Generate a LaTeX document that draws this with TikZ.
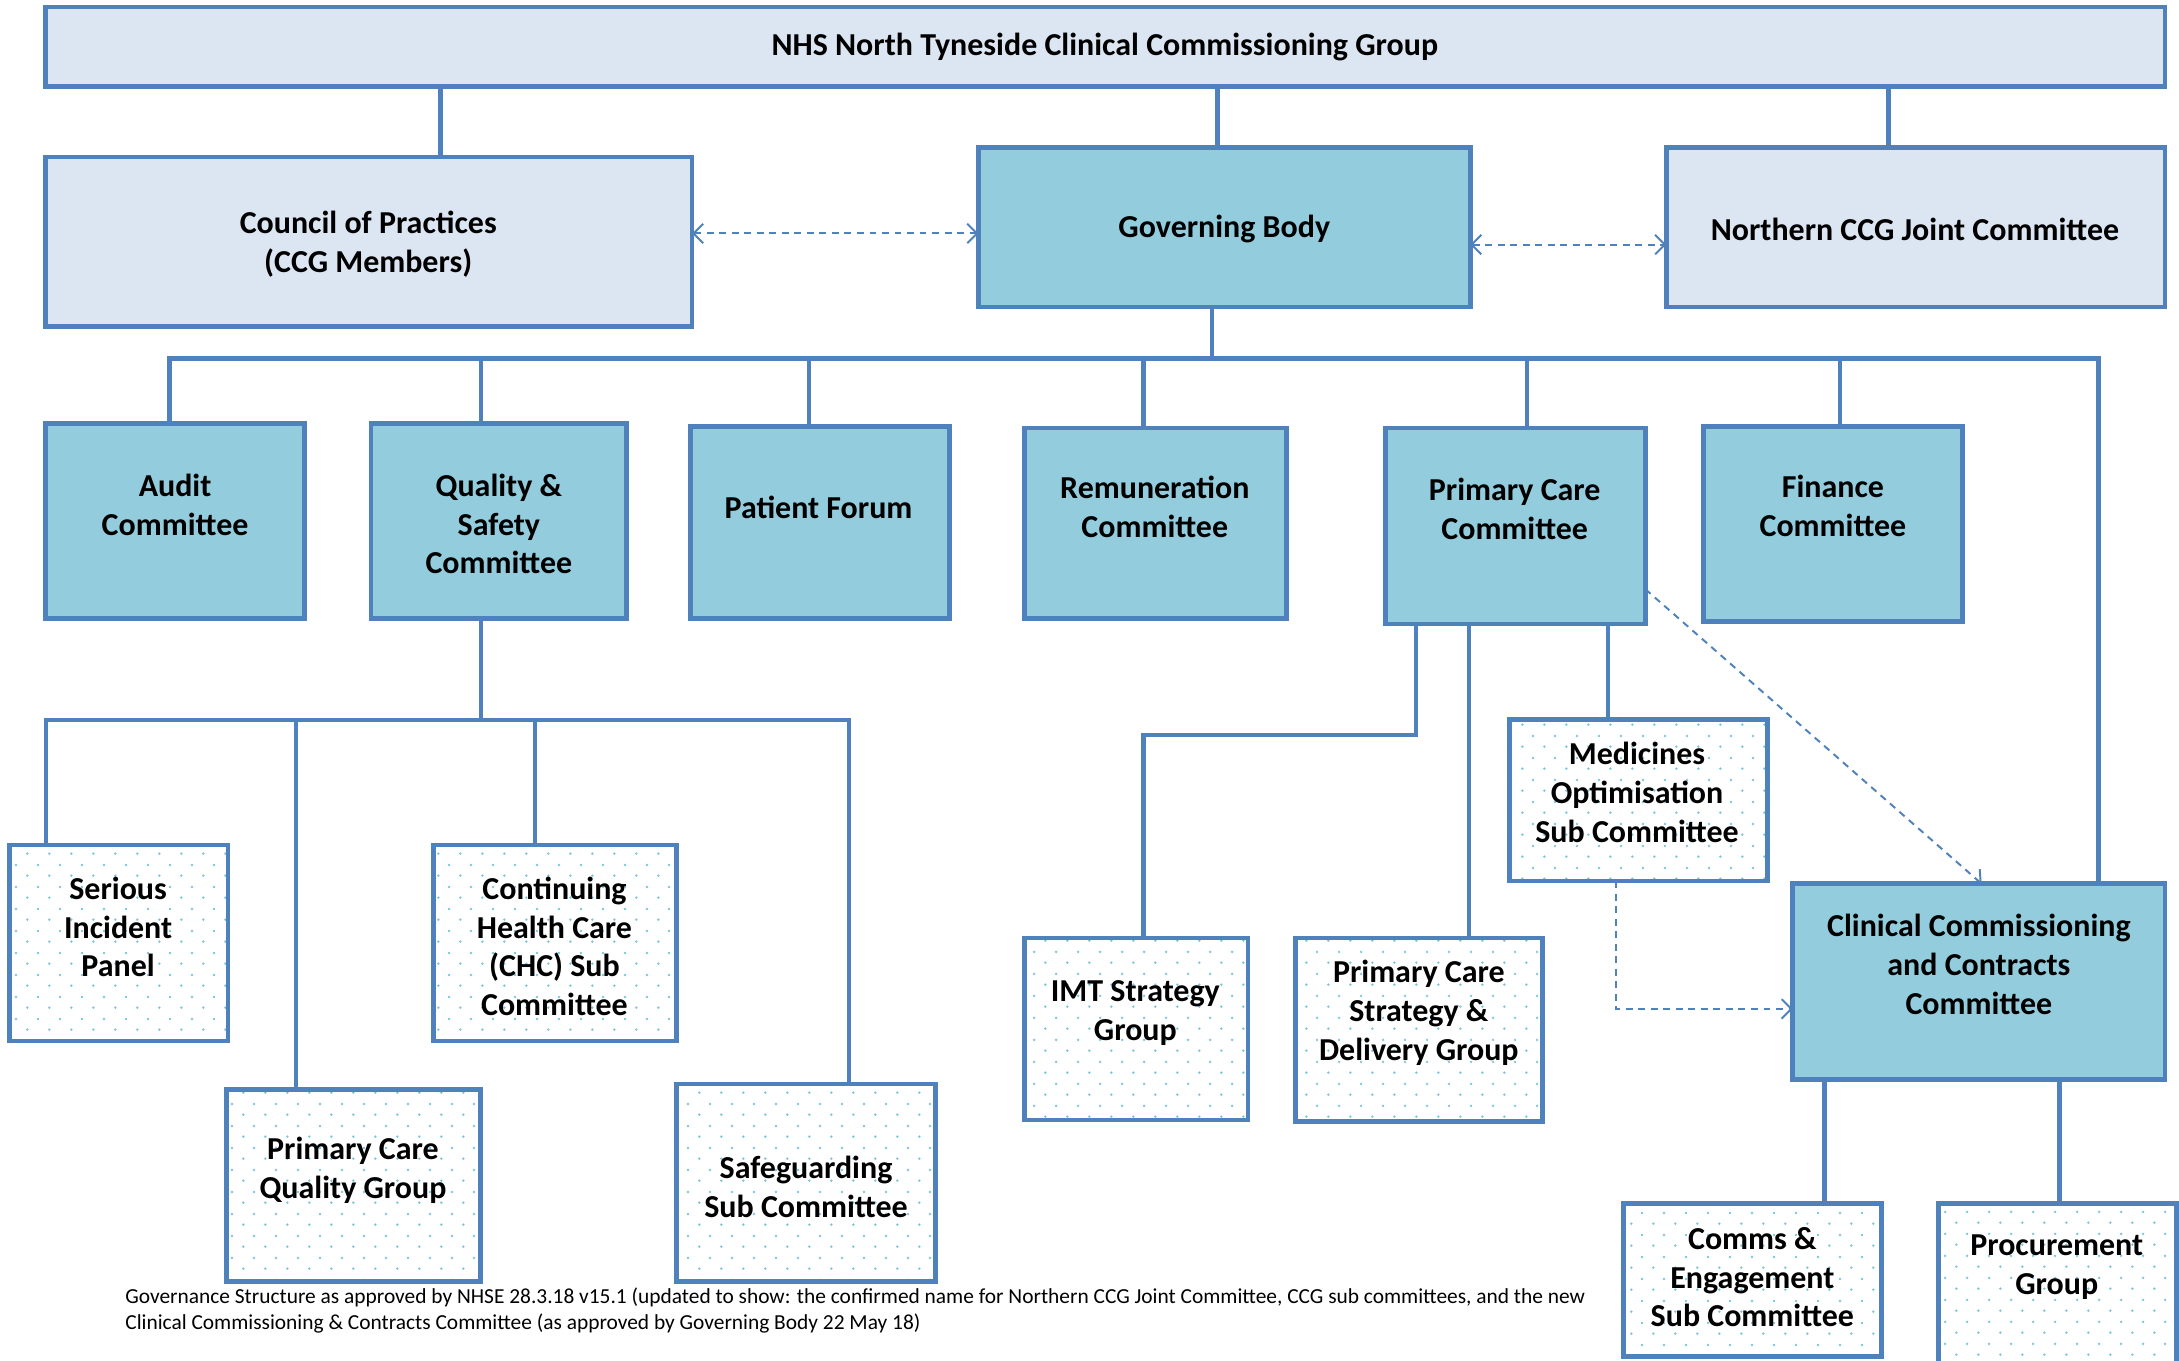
\documentclass[tikz,border=0pt]{standalone}
\usepackage{fontspec}
\setmainfont{Carlito}
\usetikzlibrary{arrows.meta,patterns.meta}
\definecolor{bord}{RGB}{79,129,189}
\definecolor{lightfill}{RGB}{220,230,242}
\definecolor{midfill}{RGB}{147,205,221}
\definecolor{dotcol}{RGB}{125,198,220}
\tikzdeclarepattern{
  name=ccgdots,
  type=uncolored,
  bounding box={(0pt,0pt) and (15.6pt,15.6pt)},
  tile size={(15.6pt,15.6pt)},
  code={
    \fill (3.9pt,3.9pt) circle[radius=1pt];
    \fill (11.7pt,11.7pt) circle[radius=1pt];
  }
}
\tikzset{
  basebox/.style={draw=bord, line width=3.4pt, anchor=north west, inner sep=0pt, outer sep=0pt, rectangle},
  lightbox/.style={basebox, fill=lightfill},
  midbox/.style={basebox, fill=midfill},
  dotbox/.style={basebox, preaction={fill=white}, pattern=ccgdots, pattern color=dotcol},
  txt/.style={font=\fontsize{23}{28}\selectfont\bfseries, align=center, inner sep=0pt},
  conn/.style={draw=bord, line width=3.2pt},
  dasharr/.style={draw=bord, line width=1.4pt, dash pattern=on 5pt off 4pt, >={Straight Barb[length=7pt,width=14pt]}},
}
\begin{document}
\begin{tikzpicture}[x=1pt,y=-1pt]
\useasboundingbox (0,0) rectangle (1568,978.7);
% boxes
\node[lightbox, minimum width=1525pt, minimum height=57pt] (top) at (33,5) {};
\node[lightbox, minimum width=465pt, minimum height=122pt] (council) at (33,113) {};
\node[midbox, minimum width=354pt, minimum height=115pt] (gov) at (704,106) {};
\node[lightbox, minimum width=359pt, minimum height=115pt] (north) at (1199,106) {};
\node[midbox, minimum width=186pt, minimum height=140pt] (audit) at (33,305) {};
\node[midbox, minimum width=184pt, minimum height=140pt] (quality) at (267,305) {};
\node[midbox, minimum width=186pt, minimum height=138pt] (patient) at (497,307) {};
\node[midbox, minimum width=189pt, minimum height=137pt] (remun) at (737,308) {};
\node[midbox, minimum width=187pt, minimum height=141pt] (pcc) at (997,308) {};
\node[midbox, minimum width=186pt, minimum height=140pt] (finance) at (1226,307) {};
\node[dotbox, minimum width=157pt, minimum height=141pt] (serious) at (7,608) {};
\node[dotbox, minimum width=183pt, minimum height=138pt] (pcqg) at (163,784) {};
\node[dotbox, minimum width=175pt, minimum height=141pt] (chc) at (312,608) {};
\node[dotbox, minimum width=186pt, minimum height=142pt] (safe) at (487,780) {};
\node[dotbox, minimum width=161pt, minimum height=131pt] (imt) at (737,675) {};
\node[dotbox, minimum width=178pt, minimum height=132pt] (pcsd) at (932,675) {};
\node[dotbox, minimum width=186pt, minimum height=116pt] (med) at (1086,518) {};
\node[midbox, minimum width=268pt, minimum height=141pt] (ccc) at (1290,636) {};
\node[dotbox, minimum width=186pt, minimum height=110pt] (comms) at (1168,866) {};
\node[dotbox, minimum width=171pt, minimum height=130pt] (proc) at (1395,866) {};
% texts
\node[txt] (top-t) at (795,34) {NHS North Tyneside Clinical Commissioning Group};
\node[txt] (council-t) at (265,176) {Council of Practices\\(CCG Members)};
\node[txt] (gov-t) at (881,165) {Governing Body};
\node[txt] (north-t) at (1378,165) {Northern CCG Joint Committee};
\node[txt] (audit-t) at (126,363) {Audit\\Committee};
\node[txt] (quality-t) at (359,377) {Quality \&\\Safety\\Committee};
\node[txt] (patient-t) at (589,365) {Patient Forum};
\node[txt] (remun-t) at (831,365) {Remuneration\\Committee};
\node[txt] (pcc-t) at (1090,366) {Primary Care\\Committee};
\node[txt] (finance-t) at (1319,364) {Finance\\Committee};
\node[txt] (serious-t) at (85,667) {Serious\\Incident\\Panel};
\node[txt] (pcqg-t) at (254,842) {Primary Care\\Quality Group};
\node[txt] (chc-t) at (399,681) {Continuing\\Health Care\\(CHC) Sub\\Committee};
\node[txt] (safe-t) at (580,854) {Safeguarding\\Sub Committee};
\node[txt] (imt-t) at (817,729) {IMT Strategy\\Group};
\node[txt] (pcsd-t) at (1021,729) {Primary Care\\Strategy \&\\Delivery Group};
\node[txt] (med-t) at (1178,570) {Medicines\\Optimisation\\Sub Committee};
\node[txt] (ccc-t) at (1424,694) {Clinical Commissioning\\and Contracts\\Committee};
\node[txt] (comms-t) at (1261,919) {Comms \&\\Engagement\\Sub Committee};
\node[txt] (proc-t) at (1480,912) {Procurement\\Group};
\node[font=\fontsize{15.4}{19}\selectfont, align=left, anchor=west, inner sep=0pt] (foot) at (90,943)
  {Governance Structure as approved by NHSE 28.3.18 v15.1 (updated to show: the confirmed name for Northern CCG Joint Committee, CCG sub committees, and the new\\Clinical Commissioning \& Contracts Committee (as approved by Governing Body 22 May 18)};
% bus coordinates
\coordinate (bus) at (0,258);
\coordinate (qbus) at (0,518);
\coordinate (imtbend) at (0,529);
% connectors
\draw[conn] (317,0 |- top.south) -- (317,0 |- council.north);
\draw[conn] (876,0 |- top.south) -- (876,0 |- gov.north);
\draw[conn] (1359,0 |- top.south) -- (1359,0 |- north.north);
\draw[conn] (872,0 |- gov.south) -- (872,0 |- bus);
\draw[conn] (122,0 |- audit.north) -- (122,0 |- bus) -- (1510,0 |- bus) -- (1510,0 |- ccc.north);
\draw[conn] (346,0 |- bus) -- (346,0 |- quality.north);
\draw[conn] (582,0 |- bus) -- (582,0 |- patient.north);
\draw[conn] (823,0 |- bus) -- (823,0 |- remun.north);
\draw[conn] (1099,0 |- bus) -- (1099,0 |- pcc.north);
\draw[conn] (1324,0 |- bus) -- (1324,0 |- finance.north);
\draw[conn] (346,0 |- quality.south) -- (346,0 |- qbus);
\draw[conn] (33,0 |- serious.north) -- (33,0 |- qbus) -- (611,0 |- qbus) -- (611,0 |- safe.north);
\draw[conn] (213,0 |- qbus) -- (213,0 |- pcqg.north);
\draw[conn] (385,0 |- qbus) -- (385,0 |- chc.north);
\draw[conn] (1019,0 |- pcc.south) -- (1019,0 |- imtbend) -- (823,0 |- imtbend) -- (823,0 |- imt.north);
\draw[conn] (1057,0 |- pcc.south) -- (1057,0 |- pcsd.north);
\draw[conn] (1157,0 |- pcc.south) -- (1157,0 |- med.north);
\draw[conn] (1313,0 |- ccc.south) -- (1313,0 |- comms.north);
\draw[conn] (1482,0 |- ccc.south) -- (1482,0 |- proc.north);
% dashed arrows
\draw[dasharr, <->] (council.east |- 0,168) -- (gov.west |- 0,168);
\draw[dasharr, <->] (gov.east |- 0,176) -- (north.west |- 0,176);
\draw[dasharr, ->] (pcc.east |- 0,424) -- (1426,0 |- ccc.north);
\draw[dasharr, ->] (1163,0 |- med.south) -- (1163,726) -- (ccc.west |- 0,726);
\end{tikzpicture}
\end{document}
